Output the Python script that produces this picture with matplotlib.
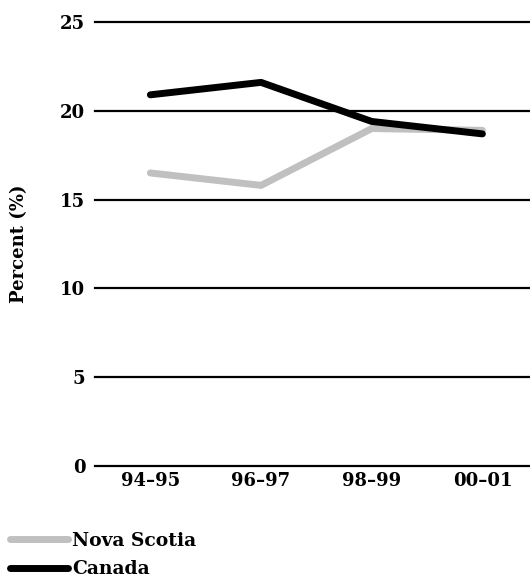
import numpy as np
import matplotlib; matplotlib.use('Agg')
import matplotlib.pyplot as plt

years = ['94\u201395', '96\u201397', '98\u201399', '00\u201301']
nova_scotia = [16.5, 15.8, 19.0, 18.9]
canada = [20.9, 21.6, 19.4, 18.7]
y_ticks = [0, 5, 10, 15, 20, 25]

plt.rcParams['font.family'] = ['DejaVu Serif']
plt.rcParams['font.weight'] = 'bold'

W, H = 530, 579
fig = plt.figure(figsize=(W / 100, H / 100), dpi=100)
ax = fig.add_axes([95 / W, 1 - 466 / H, 435 / W, 444 / H])

x = np.arange(len(years))
for t in y_ticks:
    ax.axhline(t, color='black', lw=1.6, clip_on=False, zorder=1)

ln_ns, = ax.plot(x, nova_scotia, color='#c0c0c0', lw=5, solid_capstyle='round',
                 solid_joinstyle='round', zorder=2)
ln_ca, = ax.plot(x, canada, color='black', lw=5, solid_capstyle='round',
                 solid_joinstyle='round', zorder=3)

ax.set_xlim(-0.5, 3.43)
ax.set_ylim(0, 25)
ax.set_xticks(x)
ax.set_xticklabels(years, fontsize=13, fontweight='bold')
ax.set_yticks(y_ticks)
ax.set_yticklabels([str(t) for t in y_ticks], fontsize=13, fontweight='bold')
ax.tick_params(length=0)
ax.tick_params(axis='y', pad=7)
ax.tick_params(axis='x', pad=4)
for s in ax.spines.values():
    s.set_visible(False)
ax.set_ylabel('Percent (%)', fontsize=13, fontweight='bold', labelpad=23)

fig.legend([ln_ns, ln_ca], ['Nova Scotia', 'Canada'], loc='upper left',
           bbox_to_anchor=(10 / W, 1 - 532 / H), frameon=False,
           handlelength=3.1, handletextpad=0.2, labelspacing=0.55,
           borderaxespad=0, borderpad=0, prop={'weight': 'bold', 'size': 13.5})

fig.savefig('out.png', dpi=100)
